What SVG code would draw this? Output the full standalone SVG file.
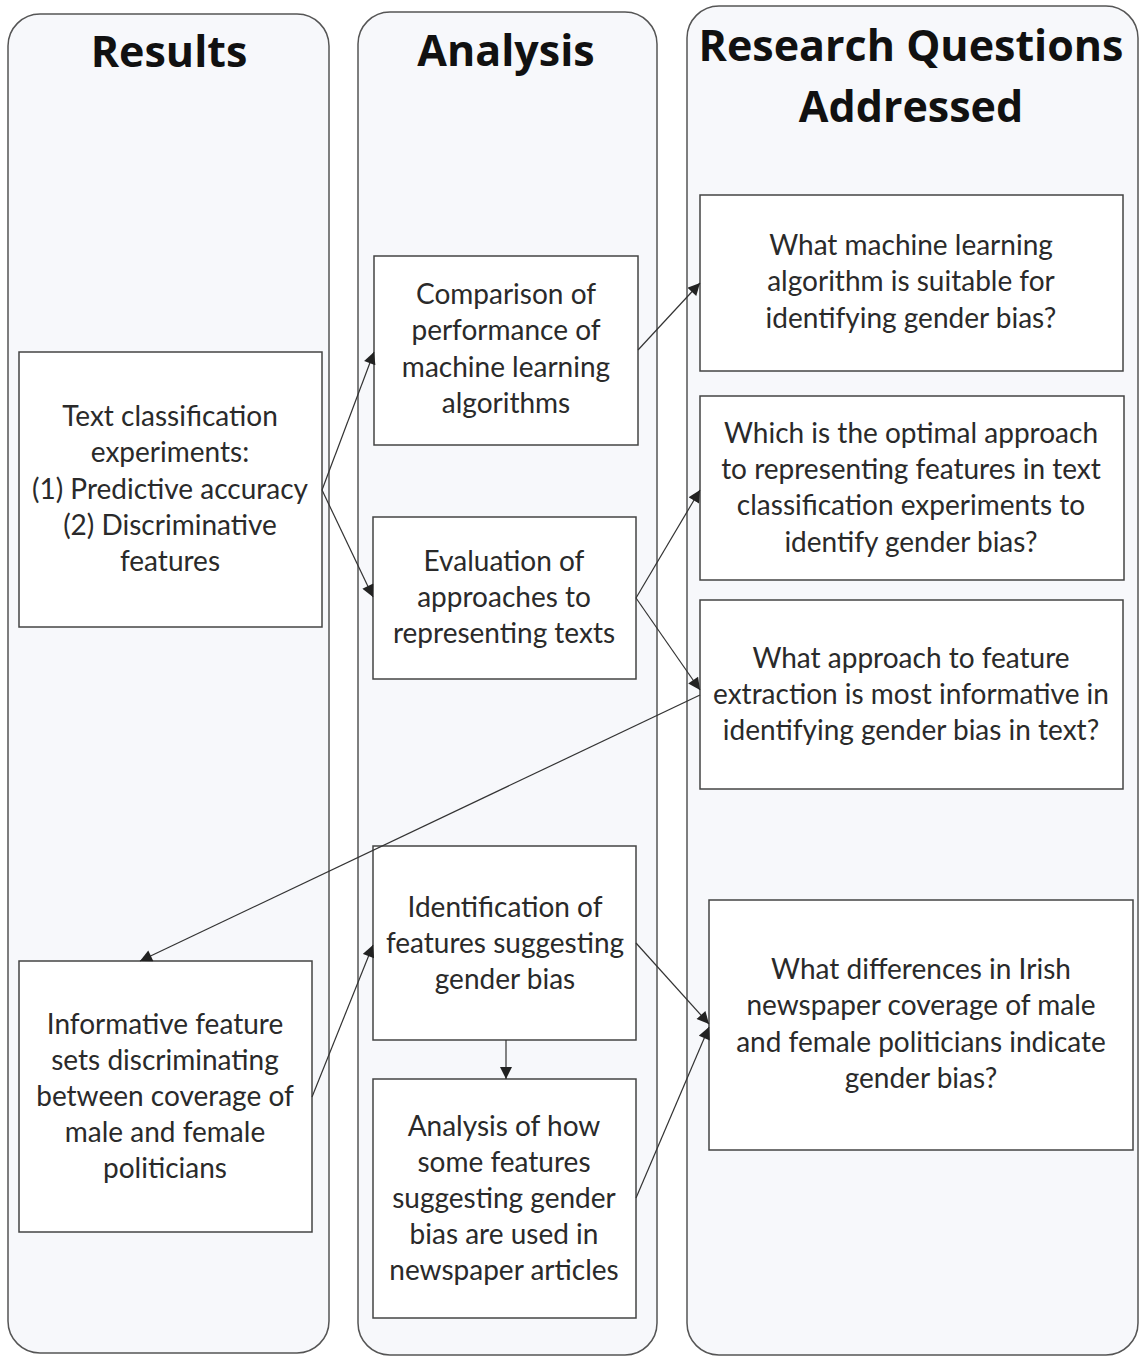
<svg xmlns="http://www.w3.org/2000/svg" width="1142" height="1357" viewBox="0 0 1142 1357">
<style>
.col{fill:#f7f8fb;stroke:#555;stroke-width:1.5}
.box{fill:#fff;stroke:#444;stroke-width:1.5}
.t{font-family:Lato,"Open Sans",sans-serif;font-size:28px;fill:#2a2a2a;text-anchor:middle}
.h{font-family:"Open Sans",Lato,sans-serif;font-size:43px;font-weight:bold;fill:#111;text-anchor:middle}
.c{stroke:#333;stroke-width:1.2;fill:none;marker-end:url(#ah)}
</style>
<defs>
<marker id="ah" viewBox="0 0 10 10" refX="10" refY="5" markerWidth="13" markerHeight="12" markerUnits="userSpaceOnUse" orient="auto">
<path d="M0,0 L10,5 L0,10 z" fill="#222"/>
</marker>
</defs>
<rect width="1142" height="1357" fill="#fff"/>
<g id="col-results"><rect class="col" x="8" y="14" width="321" height="1339" rx="32"/><text class="h" x="169" y="67">Results</text></g>
<g id="col-analysis"><rect class="col" x="358" y="12" width="299" height="1343" rx="32"/><text class="h" x="506" y="66">Analysis</text></g>
<g id="col-rq"><rect class="col" x="687" y="6" width="451" height="1349" rx="32"/><text class="h" x="911" y="61">Research Questions</text><text class="h" x="911" y="122">Addressed</text></g>

<g id="r1"><rect class="box" x="19" y="352" width="303" height="275"/>
<text class="t" x="170" y="426">Text classification</text><text class="t" x="170" y="462">experiments:</text><text class="t" x="170" y="499">(1) Predictive accuracy</text><text class="t" x="170" y="535">(2) Discriminative</text><text class="t" x="170" y="571">features</text></g>
<g id="r2"><rect class="box" x="19" y="961" width="293" height="271"/>
<text class="t" x="165" y="1034">Informative feature</text><text class="t" x="165" y="1070">sets discriminating</text><text class="t" x="165" y="1106">between coverage of</text><text class="t" x="165" y="1142">male and female</text><text class="t" x="165" y="1178">politicians</text></g>

<g id="a1"><rect class="box" x="374" y="256" width="264" height="189"/>
<text class="t" x="506" y="304">Comparison of</text><text class="t" x="506" y="340">performance of</text><text class="t" x="506" y="377">machine learning</text><text class="t" x="506" y="413">algorithms</text></g>
<g id="a2"><rect class="box" x="373" y="517" width="263" height="162"/>
<text class="t" x="504" y="571">Evaluation of</text><text class="t" x="504" y="607">approaches to</text><text class="t" x="504" y="643">representing texts</text></g>
<g id="a3"><rect class="box" x="373" y="846" width="263" height="194"/>
<text class="t" x="505" y="917">Identification of</text><text class="t" x="505" y="953">features suggesting</text><text class="t" x="505" y="989">gender bias</text></g>
<g id="a4"><rect class="box" x="373" y="1079" width="263" height="239"/>
<text class="t" x="504" y="1136">Analysis of how</text><text class="t" x="504" y="1172">some features</text><text class="t" x="504" y="1208">suggesting gender</text><text class="t" x="504" y="1244">bias are used in</text><text class="t" x="504" y="1280">newspaper articles</text></g>

<g id="q1"><rect class="box" x="700" y="195" width="423" height="176"/>
<text class="t" x="911" y="255">What machine learning</text><text class="t" x="911" y="291">algorithm is suitable for</text><text class="t" x="911" y="328">identifying gender bias?</text></g>
<g id="q2"><rect class="box" x="700" y="396" width="424" height="184"/>
<text class="t" x="911" y="443">Which is the optimal approach</text><text class="t" x="911" y="479">to representing features in text</text><text class="t" x="911" y="515">classification experiments to</text><text class="t" x="911" y="552">identify gender bias?</text></g>
<g id="q3"><rect class="box" x="700" y="600" width="423" height="189"/>
<text class="t" x="911" y="668">What approach to feature</text><text class="t" x="911" y="704">extraction is most informative in</text><text class="t" x="911" y="740">identifying gender bias in text?</text></g>
<g id="q4"><rect class="box" x="709" y="900" width="424" height="250"/>
<text class="t" x="921" y="979">What differences in Irish</text><text class="t" x="921" y="1015">newspaper coverage of male</text><text class="t" x="921" y="1052">and female politicians indicate</text><text class="t" x="921" y="1088">gender bias?</text></g>

<g id="connectors">
<line class="c" x1="322" y1="490" x2="374" y2="352"/>
<line class="c" x1="322" y1="490" x2="373" y2="597"/>
<line class="c" x1="638" y1="350" x2="700" y2="283"/>
<line class="c" x1="636" y1="598" x2="700" y2="490"/>
<line class="c" x1="636" y1="598" x2="700" y2="690"/>
<line class="c" x1="700" y1="695" x2="140" y2="961"/>
<line class="c" x1="312" y1="1097" x2="373" y2="945"/>
<line class="c" x1="506" y1="1040" x2="506" y2="1079"/>
<line class="c" x1="636" y1="943" x2="709" y2="1024"/>
<line class="c" x1="636" y1="1198" x2="709" y2="1027"/>
</g>
</svg>
